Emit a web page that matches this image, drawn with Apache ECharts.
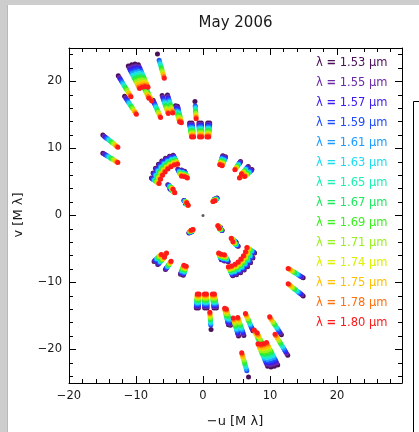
<!DOCTYPE html>
<html>
<head>
<meta charset="utf-8">
<script src="https://cdn.jsdelivr.net/npm/echarts/dist/echarts.min.js"></script>
<style>
  html, body { margin: 0; padding: 0; background: #cdcdcd; }
  #chart { width: 419px; height: 432px; }
</style>
</head>
<body>
<div id="chart"></div>
<script>
// Spectral channels (micrometres) and the colour used for each
const wavelengths = [1.53, 1.55, 1.57, 1.59, 1.61, 1.63, 1.65, 1.67, 1.69, 1.71, 1.74, 1.75, 1.78, 1.80];
const channelColors = ['#4b0f5a', '#6a2aa8', '#3a1ef0', '#1f4cff', '#1c9cff', '#1cdcf0', '#1cf0b4',
                       '#20e860', '#3cf020', '#98f020', '#dcf000', '#ffc000', '#ff7010', '#ff1a1a'];

// Projected baselines (metres): u and v for every recorded frame
const baseU = [
  10.40, 17.06, 16.29, 15.53, 14.76, 14.54, 13.77, 19.35, 17.90,  9.33,  8.11, 11.40,  6.27,  5.81,
   1.84,  3.06,  2.52,  0.92,  0.38, -1.07, -1.53, 22.87, 22.87, 11.78, 11.40, 10.86, 10.17,  9.41,
   8.57,  7.65,  6.81,  5.74,  4.90,  4.21,  8.03,  7.57,  4.36,  3.98, -3.21, -2.68, -4.51, -5.13,
  -8.57, -10.33, -11.17, -9.79,
 -10.40, -17.06, -16.29, -15.53, -14.76, -14.54, -13.77, -19.35, -17.90, -9.33, -8.11, -11.40, -6.27, -5.81,
  -1.84, -3.06, -2.52, -0.92, -0.38,  1.07,  1.53, -22.87, -22.87, -11.78, -11.40, -10.86, -10.17, -9.41,
  -8.57, -7.65, -6.81, -5.74, -4.90, -4.21, -8.03, -7.57, -4.36, -3.98,  3.21,  2.68,  4.51,  5.13,
   8.57, 10.33, 11.17,  9.79
];
const baseV = [
  36.87, 34.12, 34.43, 34.58, 34.43, 31.52, 30.75, 31.90, 27.23, 27.39, 27.54, 26.32, 25.09, 24.94,
  26.01, 21.11, 21.11, 21.11, 21.11, 21.11, 21.11, 18.36, 14.23,  8.57,  9.72, 10.79, 11.70, 12.47,
  13.08, 13.54, 13.77, 10.56, 10.40, 10.10,  7.04,  6.12,  3.44,  2.75,  3.98,  3.75, 13.62, 13.39,
  12.32, 11.17, 10.48, 10.10,
 -36.87, -34.12, -34.43, -34.58, -34.43, -31.52, -30.75, -31.90, -27.23, -27.39, -27.54, -26.32, -25.09, -24.94,
 -26.01, -21.11, -21.11, -21.11, -21.11, -21.11, -21.11, -18.36, -14.23, -8.57, -9.72, -10.79, -11.70, -12.47,
 -13.08, -13.54, -13.77, -10.56, -10.40, -10.10, -7.04, -6.12, -3.44, -2.75, -3.98, -3.75, -13.62, -13.39,
 -12.32, -11.17, -10.48, -10.10
];
// Frames recorded without the 1.55 and 1.57 channels
const sparseFrames = [0, 14, 46, 60];
const sparseChannels = [1.55, 1.57];
// Zero-spacing point
const zeroPoint = [[0, 0]];

const xTickValues = [-20, -10, 0, 10, 20];
const yTickValues = [-20, -10, 0, 10, 20];

const X_MIN = -20, X_MAX = 29.7, Y_MIN = -25, Y_MAX = 25;
const FONT = 'DejaVu Sans';
const INK = '#1a1a1a';
const GRID = { left: 69, top: 48, width: 333, height: 335 };

function tickText(v) { return v < 0 ? '\u2212' + Math.abs(v) : String(v); }

function makeAxis(kind, pos, step, tickLen, withLine, labels) {
  const ticks = kind === 'x' ? xTickValues : yTickValues;
  return {
    type: 'value', position: pos,
    min: kind === 'x' ? X_MIN : Y_MIN, max: kind === 'x' ? X_MAX : Y_MAX,
    splitNumber: Math.round(((kind === 'x' ? X_MAX - X_MIN : Y_MAX - Y_MIN)) / step),
    minInterval: step, maxInterval: step,
    axisLine: { show: withLine, onZero: false, lineStyle: { color: '#000', width: 1 } },
    axisTick: { show: true, inside: true, length: tickLen, lineStyle: { color: '#000', width: 1 } },
    axisLabel: {
      show: labels, margin: 7, color: INK, fontFamily: FONT, fontSize: 11.5,
      formatter: v => (ticks.indexOf(v) >= 0 ? tickText(v) : '')
    },
    splitLine: { show: false }, minorTick: { show: false }, minorSplitLine: { show: false }
  };
}

const series = wavelengths.map((lam, k) => {
  const pts = [];
  for (let i = 0; i < baseU.length; i++) {
    if (sparseFrames.indexOf(i) >= 0 && sparseChannels.indexOf(lam) >= 0) continue;
    pts.push([-baseU[i] / lam, baseV[i] / lam]);
  }
  return {
    type: 'scatter', name: 'λ = ' + lam.toFixed(2) + ' μm', data: pts,
    symbol: 'circle', symbolSize: 5, silent: true, animation: false,
    itemStyle: { color: channelColors[k], opacity: 1 }
  };
});
series.push({
  type: 'scatter', data: zeroPoint, symbol: 'circle', symbolSize: 3, silent: true,
  animation: false, itemStyle: { color: '#333' }
});

// Wavelength key: "λ = 1.53 μm" in each channel colour
const legendTexts = wavelengths.map((lam, k) => ({
  type: 'text', x: 316, y: 63 + 20 * k, silent: true,
  style: {
    text: '{s|λ} {e|=} {s|' + lam.toFixed(2) + ' μm}',
    fill: channelColors[k], font: '11.5px "' + FONT + '"',
    textAlign: 'left', textVerticalAlign: 'middle', verticalAlign: 'middle',
    rich: {
      s: { fill: channelColors[k], font: '11.5px "' + FONT + '"' },
      e: { fill: channelColors[k], font: 'bold 11.5px "' + FONT + '"' }
    }
  }
}));

const chart = echarts.init(document.getElementById('chart'), null, { renderer: 'canvas' });
chart.setOption({
  backgroundColor: 'transparent',
  animation: false,
  grid: Object.assign({ containLabel: false }, GRID),
  xAxis: [
    makeAxis('x', 'bottom', 10, 7, true, true),
    makeAxis('x', 'bottom', 2, 4, false, false),
    makeAxis('x', 'top', 10, 7, true, false),
    makeAxis('x', 'top', 2, 4, false, false)
  ],
  yAxis: [
    makeAxis('y', 'left', 10, 7, true, true),
    makeAxis('y', 'left', 2, 4, false, false),
    makeAxis('y', 'right', 10, 7, true, false),
    makeAxis('y', 'right', 2, 4, false, false)
  ],
  series: series,
  graphic: [
    { type: 'rect', z: -100, silent: true, shape: { x: 7, y: 5, width: 412, height: 427 }, style: { fill: '#ffffff' } },
    { type: 'rect', z: -99, silent: true, shape: { x: 7, y: 5, width: 1, height: 427 }, style: { fill: '#b8b8b8' } },
    { type: 'rect', z: -98, silent: true, shape: { x: 413.5, y: 101.5, width: 10, height: 340 },
      style: { fill: '#ffffff', stroke: '#000000', lineWidth: 1 } },
    { type: 'text', x: 235.5, y: 23, silent: true,
      style: { text: 'May 2006', fill: INK, font: '15px "' + FONT + '"', textAlign: 'center',
               textVerticalAlign: 'middle', verticalAlign: 'middle' } },
    { type: 'text', x: 235, y: 422, silent: true,
      style: { text: '\u2212u [M λ]', fill: INK, font: '13px "' + FONT + '"', textAlign: 'center',
               textVerticalAlign: 'middle', verticalAlign: 'middle' } },
    { type: 'text', x: 19, y: 215, rotation: Math.PI / 2, silent: true,
      style: { text: 'v [M λ]', fill: INK, font: '13px "' + FONT + '"', textAlign: 'center',
               textVerticalAlign: 'middle', verticalAlign: 'middle' } }
  ].concat(legendTexts)
});
</script>
</body>
</html>
